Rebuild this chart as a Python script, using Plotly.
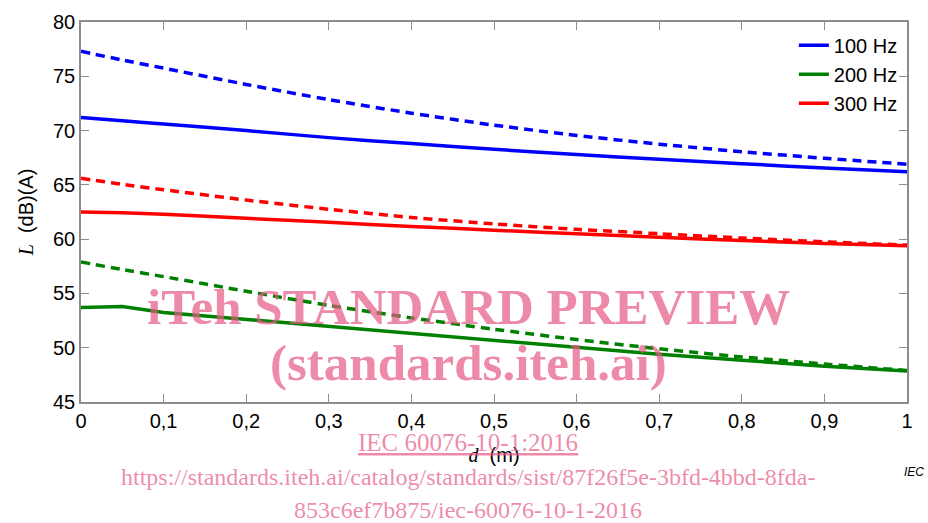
import plotly.graph_objects as go

d = [0, 0.05, 0.1, 0.2, 0.3, 0.4, 0.5, 0.6, 0.7, 0.8, 0.9, 1.0]

blue_solid = [71.2, 70.9, 70.6, 70.0, 69.35, 68.8, 68.28, 67.8, 67.35, 66.95, 66.55, 66.2]
blue_dash = [77.3, 76.5, 75.75, 74.25, 72.85, 71.6, 70.5, 69.55, 68.75, 68.05, 67.45, 66.9]
green_solid = [53.7, 53.8, 53.25, 52.6, 51.95, 51.3, 50.65, 50.0, 49.4, 48.85, 48.3, 47.85]
green_dash = [57.9, 57.2, 56.55, 55.2, 53.9, 52.75, 51.7, 50.75, 49.9, 49.15, 48.5, 47.9]
red_solid = [62.5, 62.42, 62.3, 61.92, 61.55, 61.17, 60.82, 60.5, 60.17, 59.87, 59.6, 59.4]
red_dash = [65.6, 65.05, 64.55, 63.6, 62.75, 62.0, 61.4, 60.9, 60.5, 60.1, 59.75, 59.45]

series_names = ["100 Hz", "200 Hz", "300 Hz"]
series_colors = ["#0000ff", "#008000", "#ff0000"]
solid_values = [blue_solid, green_solid, red_solid]
dash_values = [blue_dash, green_dash, red_dash]
solid_shapes = ["spline", "linear", "spline"]

x_tick_vals = [0, 0.1, 0.2, 0.3, 0.4, 0.5, 0.6, 0.7, 0.8, 0.9, 1.0]
x_tick_text = ["0", "0,1", "0,2", "0,3", "0,4", "0,5", "0,6", "0,7", "0,8", "0,9", "1"]
y_tick_vals = [45, 50, 55, 60, 65, 70, 75, 80]

fig = go.Figure()
for name, color, dv in zip(series_names, series_colors, dash_values):
    fig.add_trace(go.Scatter(x=d, y=dv, mode="lines", showlegend=False,
                             line=dict(color=color, width=3.5, dash="9px,6px",
                                       shape="spline", smoothing=0.6)))
for name, color, sv, shp in zip(series_names, series_colors, solid_values, solid_shapes):
    fig.add_trace(go.Scatter(x=d, y=sv, mode="lines", name=name, legendgroup=name,
                             line=dict(color=color, width=3.5, shape=shp, smoothing=0.6)))

axis_common = dict(showgrid=False, zeroline=False, showline=True, linecolor="#8c8c8c",
                   linewidth=1.5, mirror="ticks", ticks="inside", ticklen=8,
                   tickcolor="#8c8c8c", tickwidth=1,
                   tickfont=dict(family="Liberation Sans, Arial", size=20, color="black"))

fig.update_xaxes(range=[0, 1], tickvals=x_tick_vals, ticktext=x_tick_text,
                 title=dict(text="<span style='font-family:Liberation Serif'><i>d</i></span>\u00a0\u00a0(m)",
                            font=dict(family="Liberation Sans, Arial", size=20, color="black"),
                            standoff=17),
                 **axis_common)
fig.update_yaxes(range=[45, 80], tickvals=y_tick_vals,
                 title=dict(text="<span style='font-family:Liberation Serif'><i>L</i></span>\u00a0\u00a0(dB)(A)",
                            font=dict(family="Liberation Sans, Arial", size=20, color="black"),
                            standoff=14),
                 **axis_common)

fig.update_layout(
    width=928, height=523,
    margin=dict(l=81, r=21, t=22, b=121),
    plot_bgcolor="white", paper_bgcolor="white",
    legend=dict(x=0.995, xanchor="right", y=0.99, yanchor="top",
                font=dict(family="Liberation Sans, Arial", size=20, color="black"),
                bgcolor="rgba(0,0,0,0)", traceorder="grouped", tracegroupgap=0),
)

wm = "rgba(229,89,131,0.7)"
def px2x(px):
    return (px - 81) / 826
def px2y(py):
    return (402 - py) / 379.5

fig.add_annotation(x=px2x(468), y=px2y(337), xref="paper", yref="paper", showarrow=False,
                   text="<b>iTeh STANDARD PREVIEW</b>",
                   font=dict(family="Liberation Serif", size=51, color=wm))
fig.add_annotation(x=px2x(468), y=px2y(393), xref="paper", yref="paper", showarrow=False,
                   text="<b>(standards.iteh.ai)</b>",
                   font=dict(family="Liberation Serif", size=51, color=wm))
fig.add_annotation(x=px2x(468), y=px2y(458), xref="paper", yref="paper", showarrow=False,
                   text="<u>IEC 60076-10-1:2016</u>",
                   font=dict(family="Liberation Serif", size=25, color=wm))
fig.add_annotation(x=px2x(468), y=px2y(492), xref="paper", yref="paper", showarrow=False,
                   text="https://standards.iteh.ai/catalog/standards/sist/87f26f5e-3bfd-4bbd-8fda-",
                   font=dict(family="Liberation Serif", size=24, color=wm))
fig.add_annotation(x=px2x(468), y=px2y(525), xref="paper", yref="paper", showarrow=False,
                   text="853c6ef7b875/iec-60076-10-1-2016",
                   font=dict(family="Liberation Serif", size=24, color=wm))
fig.add_annotation(x=px2x(926), y=px2y(481), xref="paper", yref="paper", showarrow=False,
                   xanchor="right", text="<i>IEC</i>",
                   font=dict(family="Liberation Sans, Arial", size=12, color="black"))

fig.write_html("out.html")
